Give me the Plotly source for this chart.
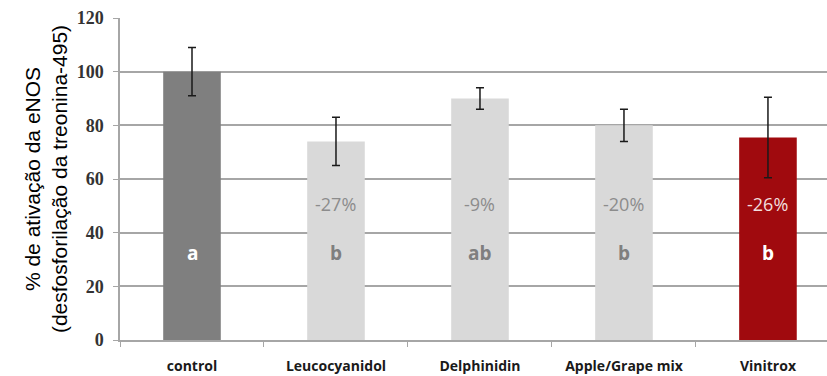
import plotly.graph_objects as go

# eNOS activation per treatment
categories = ["control", "Leucocyanidol", "Delphinidin", "Apple/Grape mix", "Vinitrox"]
activation = [100, 74, 90, 80, 75.5]
error = [9, 9, 4, 6, 15]
change_labels = ["", "-27%", "-9%", "-20%", "-26%"]
group_letters = ["a", "b", "ab", "b", "b"]

bar_colors = ["#7f7f7f", "#d9d9d9", "#d9d9d9", "#d9d9d9", "#a00a0e"]
change_colors = ["#ffffff", "#8c8c8c", "#8c8c8c", "#8c8c8c", "#f2dede"]
letter_colors = ["#ffffff", "#7f7f7f", "#7f7f7f", "#7f7f7f", "#ffffff"]

fig = go.Figure()
fig.add_trace(go.Bar(
    x=categories,
    y=activation,
    width=0.4,
    marker=dict(color=bar_colors, line=dict(width=0)),
    error_y=dict(type="data", array=error, visible=True,
                 color="#1a1a1a", thickness=1.5, width=4),
    showlegend=False,
))

annotations = []
for cat, txt, col in zip(categories, change_labels, change_colors):
    if txt:
        annotations.append(dict(x=cat, y=50.7, text=txt, showarrow=False,
                                font=dict(family="Open Sans", size=18, color=col)))
for cat, txt, col in zip(categories, group_letters, letter_colors):
    annotations.append(dict(x=cat, y=32.3, text=f"<b>{txt}</b>", showarrow=False,
                            font=dict(family="Open Sans", size=19, color=col)))

fig.update_layout(
    width=827, height=376,
    margin=dict(l=120, r=0, t=18, b=36),
    paper_bgcolor="white", plot_bgcolor="white",
    annotations=annotations,
    xaxis=dict(
        range=[-0.5, 4.41],
        showline=True, linecolor="#a6a6a6", linewidth=1.5,
        tickson="boundaries", ticks="outside", ticklen=5, tickcolor="#a6a6a6",
        tickfont=dict(family="Open Sans", size=14, color="#1a1a1a", weight="bold"),
        ticklabelstandoff=12,
        showgrid=False,
    ),
    yaxis=dict(
        range=[0, 120], dtick=20,
        showline=True, linecolor="#a6a6a6", linewidth=1.5,
        ticks="outside", ticklen=5, tickcolor="#a6a6a6",
        showgrid=True, gridcolor="#a6a6a6", gridwidth=1.5,
        zeroline=False,
        tickfont=dict(family="Liberation Serif", size=18, color="#333333", weight="bold"),
        ticklabelstandoff=6,
        title=dict(text="% de ativação da eNOS<br>(desfosforilação da treonina-495)",
                   font=dict(family="Liberation Sans", size=21, color="#000000"),
                   standoff=3),
    ),
)

fig.write_html("out.html")
